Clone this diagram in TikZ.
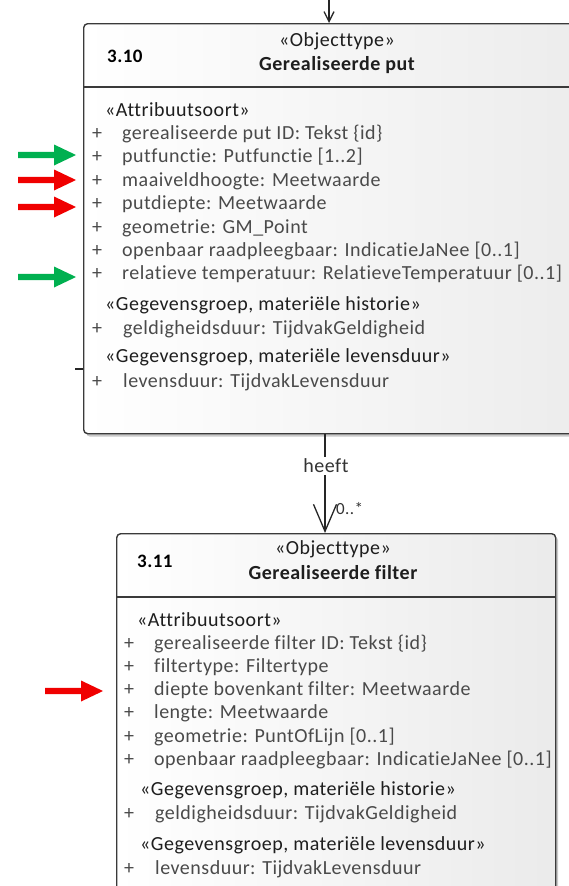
\documentclass[tikz,border=0pt]{standalone}
\usepackage{fontspec}
\setmainfont{Carlito}[LetterSpace=2.5,Ligatures=NoCommon]
\usetikzlibrary{arrows.meta,shadows}
\definecolor{arrgreen}{HTML}{00B050}
\definecolor{arrred}{HTML}{F00000}
\definecolor{attrtxt}{HTML}{4A4A4A}
\definecolor{stertxt}{HTML}{1E1E1E}
\definecolor{boxline}{HTML}{3A3A3A}
\tikzset{
  umlbox/.style={draw=boxline, line width=1.4pt, rounded corners=4pt,
    left color=white, right color=black!8, shading angle=90,
    drop shadow={shadow xshift=2.5pt, shadow yshift=-3pt, opacity=0.35, fill=black!60},
    inner sep=0pt, anchor=north west},
  sepline/.style={draw=boxline, line width=1.4pt},
  txt/.style={anchor=mid west, inner sep=0pt, font=\fontsize{20}{23}\selectfont},
  attr/.style={txt, text=attrtxt},
  plus/.style={txt, text=attrtxt},
  ster/.style={txt, text=stertxt},
  hdr/.style={anchor=mid, inner sep=0pt, font=\fontsize{20}{23}\selectfont, text=stertxt},
  hdrb/.style={hdr, font=\fontsize{20}{23}\selectfont\bfseries},
  num/.style={anchor=mid west, inner sep=0pt, font=\fontsize{19}{22}\selectfont\bfseries, text=black},
  conn/.style={draw=black!85, line width=1.3pt},
  bigarrow/.pic={\fill (0,3.2) -- (36,3.2) -- (36,10.5) -- (58,0) -- (36,-10.5) -- (36,-3.2) -- (0,-3.2) -- cycle;}
}
\begin{document}
\begin{tikzpicture}[x=1pt,y=-1pt]
\useasboundingbox (0,0) rectangle (569,886);
\clip (0,0) rectangle (569,886);
\fill[white] (0,0) rectangle (569,886);

% boxes
\node[umlbox, minimum width=540pt, minimum height=410pt] (put) at (83,23) {};
\node[umlbox, minimum width=439pt, minimum height=420pt] (filt) at (116,533) {};
\draw[sepline] (83,87) -- (623,87);
\draw[sepline] (116,597) -- (555,597);

% top header
\node[num] (n310) at (107,60) {3.10};
\node[hdr] (s310) at (337,44) {«Objecttype»};
\node[hdrb] (t310) at (337,68) {Gerealiseerde put};

% top attributes
\node[ster] (a0) at (105,114) {«Attribuutsoort»};
\foreach \yy/\tt [count=\i] in {137/{gerealiseerde put ID: Tekst \{id\}},
  160/{putfunctie: Putfunctie [1..2]},
  184/{maaiveldhoogte: Meetwaarde},
  207/{putdiepte: Meetwaarde},
  231/{geometrie: GM\_Point},
  254/{openbaar raadpleegbaar: IndicatieJaNee [0..1]},
  277/{relatieve temperatuur: RelatieveTemperatuur [0..1]}}{
  \node[plus] (ap\i) at (92,\yy) {+};
  \node[attr] (at\i) at (122,\yy) {\tt};
}
\node[ster] (g1) at (105,308) {«Gegevensgroep, materiële historie»};
\node[plus] (g1p) at (92,332) {+};
\node[attr] (g1t) at (123,332) {geldigheidsduur: TijdvakGeldigheid};
\node[ster] (g2) at (105,360) {«Gegevensgroep, materiële levensduur»};
\node[plus] (g2p) at (92,385) {+};
\node[attr] (g2t) at (123,385) {levensduur: TijdvakLevensduur};

% bottom header
\node[num] (n311) at (137,565) {3.11};
\node[hdr] (s311) at (333,552) {«Objecttype»};
\node[hdrb] (t311) at (333,577) {Gerealiseerde filter};

% bottom attributes
\node[ster] (b0) at (137,624) {«Attribuutsoort»};
\foreach \yy/\tt [count=\i] in {647/{gerealiseerde filter ID: Tekst \{id\}},
  670/{filtertype: Filtertype},
  693/{diepte bovenkant filter: Meetwaarde},
  716/{lengte: Meetwaarde},
  740/{geometrie: PuntOfLijn [0..1]},
  763/{openbaar raadpleegbaar: IndicatieJaNee [0..1]}}{
  \node[plus] (bp\i) at (124,\yy) {+};
  \node[attr] (bt\i) at (154,\yy) {\tt};
}
\node[ster] (h1) at (140,793) {«Gegevensgroep, materiële historie»};
\node[plus] (h1p) at (124,817) {+};
\node[attr] (h1t) at (155,817) {geldigheidsduur: TijdvakGeldigheid};
\node[ster] (h2) at (140,848) {«Gegevensgroep, materiële levensduur»};
\node[plus] (h2p) at (124,872) {+};
\node[attr] (h2t) at (155,872) {levensduur: TijdvakLevensduur};

% connectors
\coordinate (topin) at (329,0);
\draw[conn, -{Straight Barb[length=10pt,width=10pt]}] (topin) -- (topin |- put.north);
\coordinate (stub) at (75,369);
\draw[conn] (stub) -- (stub -| put.west);
\coordinate (hx) at (325,0);
\draw[conn, -{Straight Barb[length=27pt,width=23pt]}] (hx |- put.south) -- (hx |- filt.north);
\node[hdr, fill=white, inner sep=2pt, text=black!80] (lbl) at (326,470) {heeft};
\node[txt, anchor=west, text=black!80, font=\fontsize{17}{20}\selectfont] (mult) at (336,509) {0..*};

% annotation arrows
\pic[fill=arrgreen] at (18,155) {bigarrow};
\pic[fill=arrred] at (18,180) {bigarrow};
\pic[fill=arrred] at (18,207) {bigarrow};
\pic[fill=arrgreen] at (18,277) {bigarrow};
\pic[fill=arrred] at (45,691) {bigarrow};
\end{tikzpicture}
\end{document}
